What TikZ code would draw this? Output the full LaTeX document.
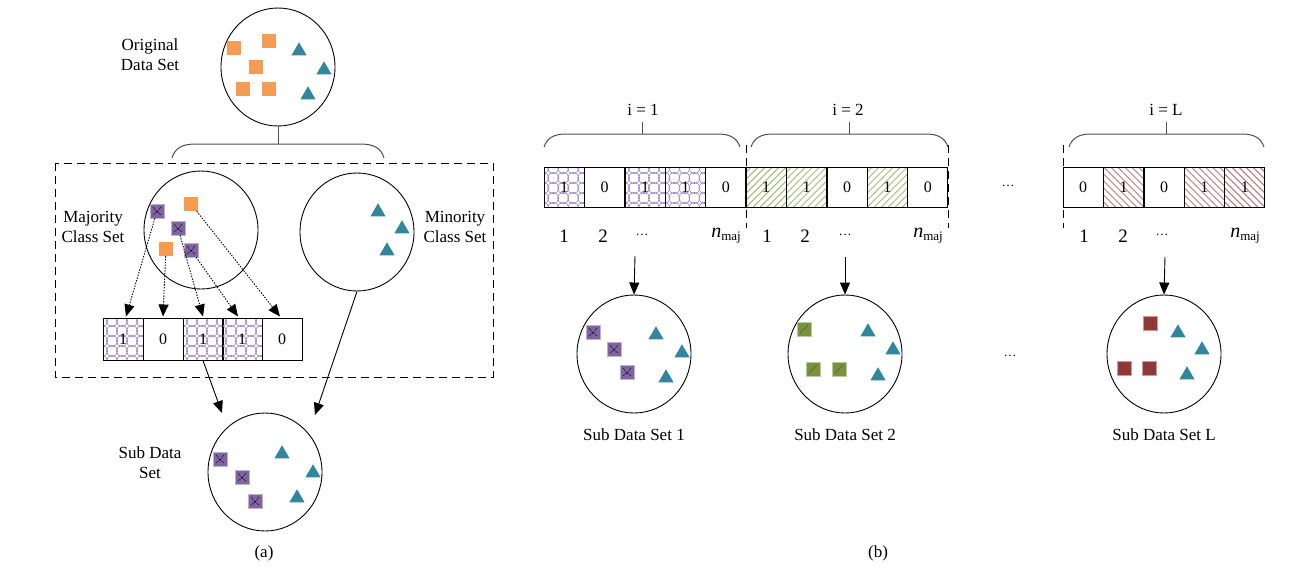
\documentclass[tikz,border=0pt]{standalone}
\usepackage{fontspec}
\setmainfont{Liberation Serif}
\usetikzlibrary{shapes.geometric,arrows.meta}
\definecolor{orangec}{RGB}{246,155,82}
\definecolor{tealc}{RGB}{49,133,156}
\definecolor{purplec}{RGB}{128,100,162}
\definecolor{greenc}{RGB}{119,147,60}
\definecolor{redc}{RGB}{149,55,53}
\definecolor{pcol}{RGB}{150,125,190}
\definecolor{gcol}{RGB}{150,180,95}
\definecolor{rcol}{RGB}{185,100,100}
\definecolor{bracec}{RGB}{80,80,80}
\tikzset{
  blob/.style={draw, ellipse, line width=0.9pt, minimum width=114pt, minimum height=118pt, inner sep=0pt},
  sqbase/.style={rectangle, minimum size=14pt, inner sep=0pt},
  osq/.style={sqbase, fill=orangec},
  psq/.style={sqbase, fill=purplec, draw=purplec!50, line width=0.6pt, path picture={
      \draw[black, line width=0.5pt, dash pattern=on 1pt off 0.7pt]
        ([shift={(3pt,3pt)}]path picture bounding box.south west) .. controls ([shift={(7pt,6pt)}]path picture bounding box.south west) .. ([shift={(-3pt,-3pt)}]path picture bounding box.north east)
        ([shift={(3pt,-3pt)}]path picture bounding box.north west) .. controls ([shift={(6pt,-7pt)}]path picture bounding box.north west) .. ([shift={(-3pt,3pt)}]path picture bounding box.south east);}},
  gsq/.style={sqbase, fill=greenc, draw=greenc!50, line width=0.6pt, path picture={
      \draw[black!70, line width=0.6pt, dash pattern=on 2pt off 1pt]
        ([shift={(3pt,3pt)}]path picture bounding box.south west) -- ([shift={(-3pt,-3pt)}]path picture bounding box.north east);}},
  rsq/.style={sqbase, fill=redc, draw=redc!50, line width=0.6pt, path picture={
      \draw[black!70, line width=0.6pt]
        ([shift={(3pt,-3pt)}]path picture bounding box.north west) -- ([shift={(-3pt,3pt)}]path picture bounding box.south east);}},
  tri/.style={regular polygon, regular polygon sides=3, minimum size=17.5pt, inner sep=0pt, fill=tealc},
  cellbox/.style={draw, line width=1pt, rectangle, minimum width=40pt, minimum height=#1, inner sep=0pt, font=\fontsize{16}{16}\selectfont},
  cellbox/.default=40pt,
  pcell/.style={cellbox=#1, path picture={
      \foreach \i in {0,...,4}{\foreach \j in {0,...,4}{
        \draw[pcol, line width=0.55pt] ([shift={(\i*10pt-1pt,\j*10pt-1pt)}]path picture bounding box.south west) circle[radius=5.6pt];}}}},
  pcell/.default=40pt,
  gcell/.style={cellbox, path picture={
      \foreach \k in {-49,-42,...,49}{
        \draw[gcol, line width=0.8pt] ([xshift=\k*1pt]path picture bounding box.south west) -- ++(50pt,50pt);}}},
  rcell/.style={cellbox, path picture={
      \foreach \k in {-49,-42,...,49}{
        \draw[rcol, line width=0.8pt] ([xshift=\k*1pt]path picture bounding box.south east) -- ++(-50pt,50pt);}}},
  lbl/.style={align=center, font=\fontsize{17}{20}\selectfont, inner sep=0pt},
  numlbl/.style={font=\fontsize{19}{19}\selectfont, inner sep=0pt},
  dotarrow/.style={line width=0.9pt, dash pattern=on 1.4pt off 1.4pt, -{Triangle[length=12pt,width=10pt]}},
  solarrow/.style={line width=0.9pt, -{Triangle[length=12pt,width=10pt]}},
  bracepath/.style={draw=bracec, line width=1pt},
  sepline/.style={line width=1pt, dash pattern=on 8pt off 5pt}
}
\newcommand{\nmaj}{{\fontsize{20}{20}\selectfont\itshape n}{\fontsize{13}{13}\selectfont\raisebox{-3pt}{maj}}}
\newcommand{\mydots}{{\fontsize{13}{13}\selectfont\raisebox{3pt}{…}}}
\begin{document}
\begin{tikzpicture}[x=1pt,y=-1pt]
\useasboundingbox (0,0) rectangle (1296,570);
\fill[white] (0,0) rectangle (1296,570);

% ---------------- (a) ----------------
\node[blob] (orig) at (278,67) {};
\node[osq] (o1) at (234,48) {};
\node[osq] (o2) at (269,41) {};
\node[osq] (o3) at (256,67) {};
\node[osq] (o4) at (243,89) {};
\node[osq] (o5) at (269,89) {};
\node[tri] (ot1) at (299,51) {};
\node[tri] (ot2) at (324,70) {};
\node[tri] (ot3) at (308,95) {};
\node[lbl] (origlbl) at (150,55) {Original\\Data Set};

\coordinate (bA) at (278,144);
\draw[bracec, line width=1pt] (orig.south) -- (bA);
\draw[bracepath] (172,158) .. controls (175,148) and (182,144) .. (196,144) -- (360,144) .. controls (374,144) and (381,148) .. (384,158);

\draw[line width=1pt, dash pattern=on 8pt off 5pt] (55,163) rectangle (493,377);

\node[blob] (major) at (201,230) {};
\node[psq] (m1) at (157,211) {};
\node[osq] (m2) at (191,204) {};
\node[psq] (m3) at (178,228) {};
\node[osq] (m4) at (166,249) {};
\node[psq] (m5) at (191,250) {};
\node[lbl] (majlbl) at (93,227) {Majority\\Class Set};

\node[blob] (minor) at (357,232) {};
\node[tri] (n1) at (378,212) {};
\node[tri] (n2) at (402,229) {};
\node[tri] (n3) at (387,251) {};
\node[lbl] (minlbl) at (455,227) {Minority\\Class Set};

\node[pcell=42pt] (ca1) at (123,339) {1};
\node[cellbox=42pt] (ca2) at (163,339) {0};
\node[pcell=42pt] (ca3) at (203,339) {1};
\node[pcell=42pt] (ca4) at (242,339) {1};
\node[cellbox=42pt] (ca5) at (282,339) {0};

\draw[dotarrow] (m1) -- ([xshift=3pt,yshift=1pt]ca1.north);
\draw[dotarrow] (m4) -- ([yshift=1pt]ca2.north);
\draw[dotarrow] (m3) -- ([yshift=1pt]ca3.north);
\draw[dotarrow] (m5) -- ([xshift=-4pt,yshift=1pt]ca4.north);
\draw[dotarrow] (m2) -- ([xshift=-2pt,yshift=1pt]ca5.north);

\node[blob] (suba) at (265,472) {};
\node[psq] (s1) at (220,459) {};
\node[psq] (s2) at (242,477) {};
\node[psq] (s3) at (255,501) {};
\node[tri] (st1) at (282,454) {};
\node[tri] (st2) at (313,473) {};
\node[tri] (st3) at (297,498) {};
\node[lbl] (sublbl) at (150,463) {Sub Data\\Set};

\coordinate (ta1) at (222,413);
\coordinate (ta2) at (315,415);
\draw[solarrow] (ca3.south) -- (ta1);
\draw[solarrow] (minor.south) -- (ta2);

\node[lbl] (capa) at (264,553) {(a)};

% ---------------- (b) ----------------
\draw[bracepath] (544,147) .. controls (547,138) and (554,134) .. (566,134) -- (718,134) .. controls (730,134) and (737,138) .. (740,147);
\draw[bracepath] (642,134) -- (642,122);
\node[lbl] (i1) at (643,110) {i = 1};
\draw[bracepath] (751,147) .. controls (754,138) and (761,134) .. (773,134) -- (926,134) .. controls (938,134) and (945,138) .. (948,147);
\draw[bracepath] (849,134) -- (849,122);
\node[lbl] (i2) at (848,110) {i = 2};
\draw[bracepath] (1069,147) .. controls (1072,138) and (1079,134) .. (1091,134) -- (1242,134) .. controls (1254,134) and (1261,138) .. (1264,147);
\draw[bracepath] (1166,134) -- (1166,122);
\node[lbl] (iL) at (1166,110) {i = L};

\node[pcell] (b11) at (564.2,187) {1};
\node[cellbox] (b12) at (604.6,187) {0};
\node[pcell] (b13) at (645,187) {1};
\node[pcell] (b14) at (685.4,187) {1};
\node[cellbox] (b15) at (725.8,187) {0};

\node[gcell] (b21) at (766.2,187) {1};
\node[gcell] (b22) at (806.6,187) {1};
\node[cellbox] (b23) at (847,187) {0};
\node[gcell] (b24) at (887.4,187) {1};
\node[cellbox] (b25) at (927.8,187) {0};

\node[cellbox] (bL1) at (1083.2,187) {0};
\node[rcell] (bL2) at (1123.6,187) {1};
\node[cellbox] (bL3) at (1164,187) {0};
\node[rcell] (bL4) at (1204.4,187) {1};
\node[rcell] (bL5) at (1244.8,187) {1};

\draw[sepline] (746,145) -- (746,228);
\draw[sepline] (948,145) -- (948,228);
\draw[sepline] (1063,145) -- (1063,228);

\node[lbl] (dotsA) at (1008,187) {\mydots};
\node[lbl] (dotsB) at (1010,357) {\mydots};

\node[numlbl] (n11) at (564,236) {1};
\node[numlbl] (n12) at (603,236) {2};
\node[numlbl] (n13) at (642,236) {\mydots};
\node[numlbl] (n14) at (726,236) {\nmaj};
\node[numlbl] (n21) at (767,236) {1};
\node[numlbl] (n22) at (805,236) {2};
\node[numlbl] (n23) at (845,236) {\mydots};
\node[numlbl] (n24) at (928,236) {\nmaj};
\node[numlbl] (nL1) at (1084,236) {1};
\node[numlbl] (nL2) at (1123,236) {2};
\node[numlbl] (nL3) at (1162,236) {\mydots};
\node[numlbl] (nL4) at (1245,236) {\nmaj};

\node[blob] (sub1) at (634,354) {};
\node[psq] (p1) at (593,332) {};
\node[psq] (p2) at (614,349) {};
\node[psq] (p3) at (627,372) {};
\node[tri] (q1) at (656,335) {};
\node[tri] (q2) at (682,353) {};
\node[tri] (q3) at (666,378) {};
\node[lbl] (sub1lbl) at (634,435) {Sub Data Set 1};

\node[blob] (sub2) at (845,354) {};
\node[gsq] (g1) at (804,329) {};
\node[gsq] (g2) at (813,369) {};
\node[gsq] (g3) at (839,369) {};
\node[tri] (h1) at (868,332) {};
\node[tri] (h2) at (893,350) {};
\node[tri] (h3) at (878,376) {};
\node[lbl] (sub2lbl) at (845,435) {Sub Data Set 2};

\node[blob] (subL) at (1164,354) {};
\node[rsq] (r1) at (1150,323) {};
\node[rsq] (r2) at (1124,368) {};
\node[rsq] (r3) at (1149,368) {};
\node[tri] (u1) at (1178,333) {};
\node[tri] (u2) at (1202,350) {};
\node[tri] (u3) at (1187,375) {};
\node[lbl] (subLlbl) at (1164,435) {Sub Data Set L};

\coordinate (a1s) at (635,256);
\coordinate (a2s) at (845,257);
\coordinate (aLs) at (1165,257);
\draw[solarrow] (a1s) -- (sub1.north);
\draw[solarrow] (a2s) -- (sub2.north);
\draw[solarrow] (aLs) -- (subL.north);

\node[lbl] (capb) at (878,553) {(b)};
\end{tikzpicture}
\end{document}
